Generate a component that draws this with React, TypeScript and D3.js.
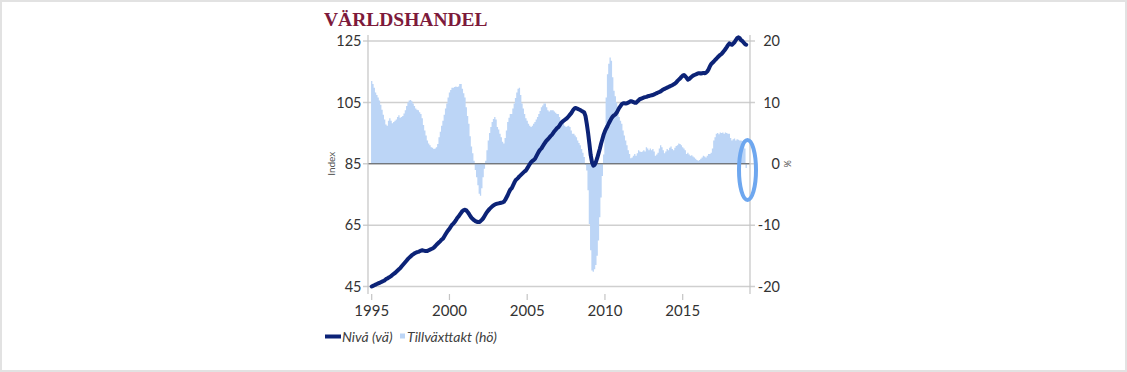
import React from 'react';
import * as d3 from 'd3';

// monthly data, jan 1995 - feb 2019
const startYear = 1995;

// Nivå (vä), index
const niva = [
  45.0, 45.2, 45.4, 45.6, 45.8, 46.0, 46.2, 46.4, 46.6, 46.8, 47.0, 47.4,
  47.6, 47.9, 48.1, 48.4, 48.8, 49.1, 49.4, 49.8, 50.2, 50.6, 51.0, 51.5,
  52.0, 52.5, 53.0, 53.5, 54.0, 54.4, 54.8, 55.2, 55.5, 55.8, 56.0, 56.2,
  56.3, 56.5, 56.7, 56.8, 56.7, 56.6, 56.6, 56.6, 56.8, 57.0, 57.2, 57.4,
  57.7, 58.1, 58.6, 59.0, 59.4, 59.8, 60.3, 60.6, 61.3, 62.0, 62.7, 63.3,
  63.8, 64.5, 65.1, 65.5, 66.0, 66.6, 67.3, 67.8, 68.4, 69.0, 69.6, 69.9,
  70.0, 69.8, 69.3, 68.7, 68.0, 67.4, 67.0, 66.6, 66.3, 66.1, 66.0, 66.0,
  66.3, 66.7, 67.2, 67.9, 68.6, 69.3, 69.8, 70.3, 70.7, 71.1, 71.4, 71.7,
  71.9, 72.0, 72.1, 72.2, 72.3, 72.4, 72.6, 73.2, 74.0, 74.8, 75.8, 76.6,
  77.0, 77.9, 78.8, 79.6, 80.0, 80.4, 80.9, 81.3, 81.7, 82.1, 82.5, 82.8,
  83.5, 84.2, 84.9, 85.5, 85.9, 86.2, 86.6, 87.4, 88.2, 89.0, 89.6, 90.0,
  90.7, 91.4, 92.0, 92.6, 93.0, 93.5, 94.0, 94.4, 95.0, 95.6, 96.1, 96.6,
  96.9, 97.5, 98.2, 98.6, 99.0, 99.3, 99.6, 100.0, 100.5, 101.0, 101.5, 102.2,
  102.8, 103.2, 103.1, 102.9, 102.7, 102.5, 102.2, 102.0, 101.7, 100.5, 98.0, 95.0,
  91.5, 87.8, 85.5, 84.4, 84.6, 85.5, 86.8, 88.3, 89.8, 91.5, 93.0, 94.5,
  95.6, 96.5, 97.3, 98.2, 99.0, 99.8, 100.4, 100.8, 101.1, 101.6, 102.4, 103.2,
  103.8, 104.4, 104.7, 104.7, 104.6, 104.7, 104.9, 105.2, 105.4, 105.3, 105.1, 104.9,
  104.9, 105.3, 105.7, 106.1, 106.2, 106.4, 106.6, 106.7, 106.8, 107.0, 107.1, 107.2,
  107.3, 107.4, 107.6, 107.8, 108.0, 108.2, 108.4, 108.6, 108.9, 109.2, 109.4, 109.6,
  109.8, 110.0, 110.2, 110.4, 110.6, 110.9, 111.1, 111.5, 112.0, 112.4, 112.8, 113.3,
  113.7, 113.9, 113.5, 113.0, 112.4, 112.6, 113.0, 113.4, 113.7, 113.9, 114.1, 114.3,
  114.5, 114.5, 114.4, 114.5, 114.6, 114.5, 114.7, 115.1, 115.8, 116.8, 117.5, 117.9,
  118.3, 118.8, 119.2, 119.7, 120.1, 120.5, 120.8, 121.3, 121.8, 122.4, 123.0, 123.7,
  124.2, 123.9, 123.8, 124.2, 124.6, 125.3, 125.9, 126.2, 125.9, 125.3, 125.0, 124.5,
  124.0, 123.8,
];

// Tillväxttakt (hö), % per år
const tillvaxt = [
  13.5, 13.0, 12.4, 11.6, 11.2, 10.8, 10.3, 9.6, 8.8, 8.0, 7.2, 6.4,
  6.2, 7.0, 7.4, 7.0, 6.6, 6.8, 7.0, 7.2, 7.6, 7.9, 7.5, 7.6,
  7.8, 8.2, 8.7, 9.4, 10.0, 10.3, 10.4, 10.2, 9.8, 9.4, 9.0, 8.8,
  8.7, 8.4, 8.1, 7.4, 6.3, 5.4, 4.6, 3.8, 3.3, 3.0, 2.7, 2.6,
  2.4, 2.5, 2.7, 3.2, 4.3, 5.2, 6.2, 7.0, 8.0, 9.0, 9.8, 10.8,
  11.6, 12.0, 12.4, 12.4, 12.5, 12.6, 12.5, 12.6, 13.0, 13.0, 12.2, 11.5,
  10.8, 9.2, 7.8, 6.5, 4.5, 2.8, 1.7, 0.5, -1.0, -2.2, -3.5, -4.9,
  -5.2, -4.0, -2.2, -0.8, 0.5, 2.2, 3.8, 5.0, 6.0, 6.8, 7.3, 7.6,
  7.2, 6.0, 5.6, 4.9, 4.3, 3.6, 3.3, 4.2, 5.4, 6.8, 7.5, 8.1,
  8.1, 9.0, 9.8, 10.7, 11.6, 12.2, 12.4, 11.2, 9.8, 9.0, 8.1, 7.4,
  7.0, 6.5, 6.2, 6.0, 6.2, 6.5, 6.8, 7.2, 7.6, 8.1, 8.6, 9.2,
  9.5, 9.8, 9.8, 9.2, 8.7, 8.5, 8.7, 8.7, 8.7, 8.5, 8.3, 8.1,
  8.1, 7.6, 7.0, 6.8, 6.5, 6.2, 6.0, 6.1, 6.2, 6.0, 5.4, 4.9,
  4.9, 4.6, 4.3, 3.8, 3.4, 3.0, 2.4, 1.8, 1.1, -0.2, -1.1, -4.3,
  -9.8, -14.1, -17.4, -17.6, -17.2, -16.5, -15.0, -12.5, -8.7, -5.5, -2.0, 1.5,
  5.4, 10.8, 14.6, 16.3, 17.3, 16.8, 14.1, 11.9, 11.0, 10.0, 8.8, 7.6,
  7.0, 6.5, 5.4, 4.6, 3.8, 3.0, 2.2, 1.6, 0.9, 1.0, 1.3, 1.6,
  1.3, 1.7, 2.2, 2.0, 1.9, 2.0, 2.2, 2.0, 2.7, 2.5, 2.2, 2.5,
  2.2, 2.4, 2.0, 1.3, 1.5, 1.8, 2.5, 3.0, 2.7, 2.2, 1.7, 2.0,
  2.4, 2.2, 2.6, 2.8, 2.4, 2.2, 2.6, 2.9, 3.0, 3.3, 3.2, 3.0,
  2.7, 2.5, 2.2, 1.6, 1.8, 1.5, 1.3, 1.4, 1.2, 1.0, 0.8, 0.6,
  0.5, 0.6, 0.8, 1.0, 1.3, 1.2, 1.0, 1.3, 1.6, 1.6, 1.8, 2.5,
  3.8, 4.3, 4.9, 5.0, 4.8, 5.1, 5.0, 5.1, 4.9, 5.1, 5.0, 4.9,
  4.9, 4.2, 3.8, 4.0, 4.1, 3.8, 4.0, 3.9, 3.8, 3.8, 3.7, 3.6,
  2.5, -0.7,
];

const yearTicks = [1995, 2000, 2005, 2010, 2015];
const leftTicks = [45, 65, 85, 105, 125];
const rightTicks = [-20, -10, 0, 10, 20];

const W = 1127;
const H = 372;
const font = 'Lato, "Open Sans", sans-serif';

export default function App() {
  const x = d3.scaleLinear().domain([1995, 2015]).range([371.7, 682.7]);
  const yL = d3.scaleLinear().domain([45, 125]).range([286.5, 41]);
  const yR = d3.scaleLinear().domain([-20, 20]).range([286.5, 41]);

  const t = (i: number) => startYear + i / 12;
  const step = x(1995 + 1 / 12) - x(1995);

  const line = d3
    .line<number>()
    .x((d, i) => x(t(i)))
    .y((d) => yL(d));

  // columns with no gap, drawn as one stepped area so there are no seams
  const padded = [...tillvaxt, tillvaxt[tillvaxt.length - 1]];
  const bars = d3
    .area<number>()
    .x((d, i) => x(t(i)) - step / 2)
    .y0(yR(0))
    .y1((d) => yR(d))
    .curve(d3.curveStepAfter);

  const plotLeft = 368;
  const plotRight = 750;
  const plotTop = 35;
  const plotBottom = 294;

  return (
    <svg
      width={W}
      height={H}
      style={{ position: 'absolute', left: 0, top: 0, display: 'block', background: '#fff' }}
    >
      <rect x={1} y={1} width={W - 2} height={H - 2} fill="#fff" stroke="#e2e2e2" strokeWidth={2} />

      <text x={324} y={26} fontFamily='"Liberation Serif", "DejaVu Serif", serif' fontWeight="bold" fontSize={19.5} fill="#7d1a3b">
        VÄRLDSHANDEL
      </text>

      {/* gridlines */}
      {leftTicks.map((v) => (
        <line key={'g' + v} x1={plotLeft - 5} x2={plotRight + 5} y1={yL(v)} y2={yL(v)} stroke="#cfcfcf" strokeWidth={1.5} />
      ))}

      {/* growth columns */}
      <path d={bars(padded) || ''} fill="#bcd5f6" />

      {/* zero line */}
      <line x1={plotLeft} x2={plotRight} y1={yR(0)} y2={yR(0)} stroke="#595959" strokeWidth={1.2} />

      {/* axes */}
      <line x1={plotLeft} x2={plotLeft} y1={plotTop} y2={plotBottom} stroke="#c4c4c4" strokeWidth={1.2} />
      <line x1={plotRight} x2={plotRight} y1={plotTop} y2={plotBottom} stroke="#c4c4c4" strokeWidth={1.2} />
      {yearTicks.map((yr) => (
        <line key={'xt' + yr} x1={x(yr)} x2={x(yr)} y1={plotBottom} y2={plotBottom + 6} stroke="#c4c4c4" strokeWidth={1.2} />
      ))}

      {/* level line */}
      <path d={line(niva) || ''} fill="none" stroke="#0c2377" strokeWidth={4} strokeLinejoin="round" strokeLinecap="round" />

      {/* tick labels */}
      {leftTicks.map((v) => (
        <text key={'lt' + v} x={361.5} y={yL(v)} dy="0.36em" textAnchor="end" fontFamily={font} fontSize={14.5} fill="#333">
          {v}
        </text>
      ))}
      {rightTicks.map((v) => (
        <text key={'rt' + v} x={780} y={yR(v)} dy="0.36em" textAnchor="end" fontFamily={font} fontSize={14.5} fill="#333">
          {v}
        </text>
      ))}
      {yearTicks.map((yr) => (
        <text key={'xl' + yr} x={x(yr)} y={316} textAnchor="middle" fontFamily={font} fontSize={15} fill="#333">
          {yr}
        </text>
      ))}

      <text transform={`translate(335,${yR(0)}) rotate(-90)`} textAnchor="middle" fontFamily={font} fontSize={10} fill="#555">
        Index
      </text>
      <text transform={`translate(784,${yR(0)}) rotate(90)`} textAnchor="middle" fontFamily={font} fontSize={9} fill="#555">
        %
      </text>

      {/* highlight */}
      <ellipse cx={747.5} cy={170} rx={8.5} ry={30} fill="none" stroke="#6ea7ef" strokeWidth={4} />

      {/* legend */}
      <line x1={325} x2={341} y1={336.5} y2={336.5} stroke="#0c2377" strokeWidth={4} />
      <text x={342} y={341.5} fontFamily={font} fontStyle="italic" fontSize={14} fill="#404040">
        Nivå (vä)
      </text>
      <rect x={400} y={333.5} width={5} height={5} fill="#bcd5f6" />
      <text x={407} y={341.5} fontFamily={font} fontStyle="italic" fontSize={14} fill="#404040">
        Tillväxttakt (hö)
      </text>
    </svg>
  );
}
